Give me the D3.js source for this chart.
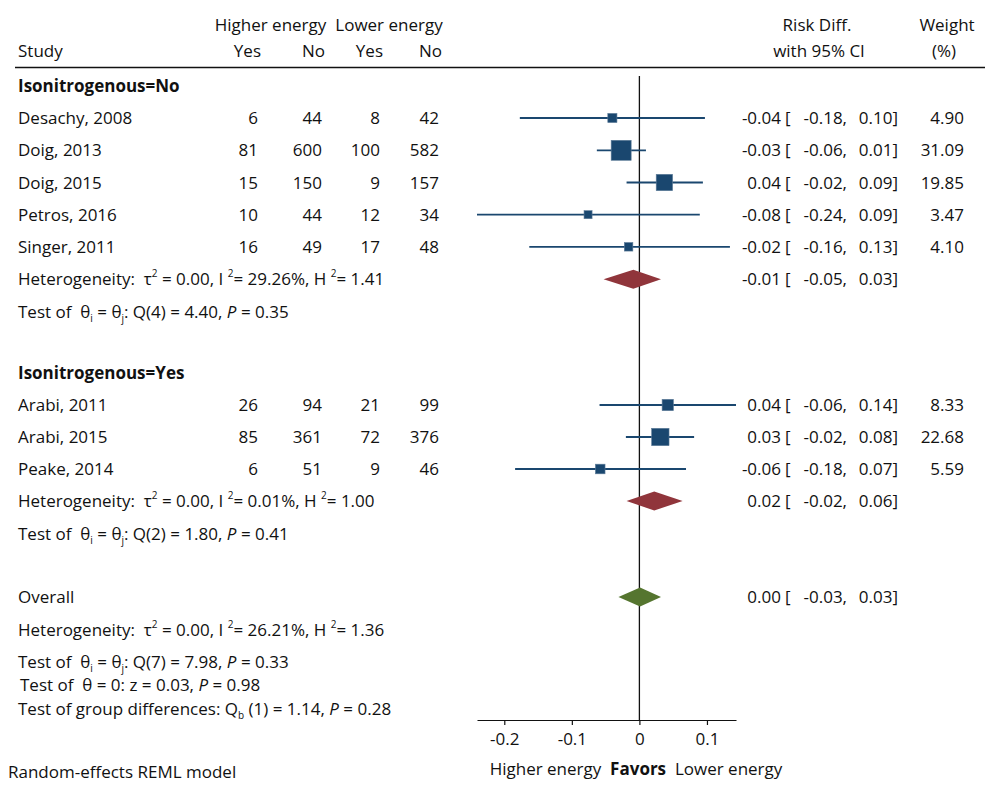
<!DOCTYPE html>
<html><head><meta charset="utf-8">
<script src="https://cdn.jsdelivr.net/npm/d3@7/dist/d3.min.js"></script>
<style>
html,body{margin:0;padding:0;background:#fff;}
svg text{font-family:"Open Sans","Noto Sans",sans-serif;font-size:17px;fill:#111;}
</style></head>
<body>
<svg id="chart" width="1000" height="788"></svg>
<script>
// ---- data ----
const studies = ["Desachy, 2008","Doig, 2013","Doig, 2015","Petros, 2016","Singer, 2011","Arabi, 2011","Arabi, 2015","Peake, 2014"];
const groupOf = ["No","No","No","No","No","Yes","Yes","Yes"];
const hiYes = [6,81,15,10,16,26,85,6];
const hiNo  = [44,600,150,44,49,94,361,51];
const loYes = [8,100,9,12,17,21,72,9];
const loNo  = [42,582,157,34,48,99,376,46];
const rd    = [-0.040,-0.027,0.037,-0.076,-0.016,0.042,0.031,-0.058];
const ciLo  = [-0.177,-0.063,-0.019,-0.2404,-0.163,-0.059,-0.020,-0.184];
const ciHi  = [0.097,0.0097,0.094,0.0894,0.134,0.143,0.081,0.069];
const weight = [4.90,31.09,19.85,3.47,4.10,8.33,22.68,5.59];

const groups = ["Isonitrogenous=No","Isonitrogenous=Yes"];
const pooledRd = [-0.009,0.022,0.001];
const pooledLo = [-0.053,-0.019,-0.031];
const pooledHi = [0.032,0.064,0.032];

const tau2 = [0.00,0.00,0.00];
const i2   = [29.26,0.01,26.21];
const h2   = [1.41,1.00,1.36];
const qDf  = [4,2,7];
const qVal = [4.40,1.80,7.98];
const qP   = [0.35,0.41,0.33];
const zVal = 0.03, zP = 0.98;
const qbDf = 1, qbVal = 1.14, qbP = 0.28;

const axisTicks = [-0.2,-0.1,0,0.1];

// ---- layout ----
const svg = d3.select("#chart");
const loc = d3.formatLocale({decimal:".",thousands:",",grouping:[3],currency:["",""],minus:"-"});
const f2 = loc.format(".2f");
const fTick = v => v === 0 ? "0" : loc.format(".1f")(v);

const xMin = d3.min(ciLo), xMax = d3.max(ciHi);
const x = d3.scaleLinear().domain([xMin, xMax]).range([477, 736]);
const size = d3.scaleSqrt().domain([0, d3.max(weight)]).range([2, 20]);
const navy = "#1a476f", cran = "#90353b", green = "#55752f";

// row centres
const studyY = [118,150.3,182.5,214.7,246.8,405,437,469];
const headY = [86,373];
const pooledY = [279.2,501,597];
const testY = [311.5,533.5,662];
const hetY3 = 629.5;

const colRight = [258,322,380,439];
const dy = "0.36em";

// header
const hdr = svg.append("g");
hdr.append("text").attr("x",270.5).attr("y",31).attr("text-anchor","middle").text("Higher energy");
hdr.append("text").attr("x",389).attr("y",31).attr("text-anchor","middle").text("Lower energy");
hdr.append("text").attr("x",18).attr("y",57).text("Study");
["Yes","No","Yes","No"].forEach((t,i)=>{
  hdr.append("text").attr("x",colRight[i]+3).attr("y",57).attr("text-anchor","end").text(t);
});
hdr.append("text").attr("x",817).attr("y",31).attr("text-anchor","middle").text("Risk Diff.");
hdr.append("text").attr("x",819).attr("y",57).attr("text-anchor","middle").text("with 95% CI");
hdr.append("text").attr("x",947).attr("y",31).attr("text-anchor","middle").text("Weight");
hdr.append("text").attr("x",944).attr("y",57).attr("text-anchor","middle").text("(%)");
svg.append("line").attr("x1",15).attr("x2",985).attr("y1",67.5).attr("y2",67.5)
  .attr("stroke","#111").attr("stroke-width",1.6);

// group headers
groups.forEach((g,i)=>{
  svg.append("text").attr("x",18).attr("y",headY[i]).attr("dy",dy)
    .attr("font-weight","bold").text(g);
});

// zero line
svg.append("line").attr("x1",x(0)).attr("x2",x(0)).attr("y1",76).attr("y2",720)
  .attr("stroke","#111").attr("stroke-width",1.3);

// right-hand estimate text
function estText(y, est, lo, hi, w){
  const g = svg.append("g");
  g.append("text").attr("x",781).attr("y",y).attr("dy",dy).attr("text-anchor","end").text(f2(est));
  g.append("text").attr("x",785).attr("y",y).attr("dy",dy).text("[");
  g.append("text").attr("x",847).attr("y",y).attr("dy",dy).attr("text-anchor","end").text(f2(lo)+",");
  g.append("text").attr("x",898).attr("y",y).attr("dy",dy).attr("text-anchor","end").text(f2(hi)+"]");
  if (w != null) g.append("text").attr("x",964).attr("y",y).attr("dy",dy).attr("text-anchor","end").text(f2(w));
}

// studies
studies.forEach((s,i)=>{
  const y = studyY[i];
  svg.append("text").attr("x",18).attr("y",y).attr("dy",dy).text(s);
  [hiYes[i],hiNo[i],loYes[i],loNo[i]].forEach((v,j)=>{
    svg.append("text").attr("x",colRight[j]).attr("y",y).attr("dy",dy).attr("text-anchor","end").text(v);
  });
  svg.append("line").attr("x1",x(ciLo[i])).attr("x2",x(ciHi[i])).attr("y1",y).attr("y2",y)
    .attr("stroke",navy).attr("stroke-width",1.8);
  const sz = size(weight[i]);
  svg.append("rect").attr("x",x(rd[i])-sz/2).attr("y",y-sz/2).attr("width",sz).attr("height",sz)
    .attr("fill",navy).attr("stroke","#5f7d99").attr("stroke-width",0.6);
  estText(y, rd[i], ciLo[i], ciHi[i], weight[i]);
});

// diamonds
const dColors = [cran, cran, green];
pooledRd.forEach((e,i)=>{
  const y = pooledY[i], h = 9.5;
  const pts = [[x(pooledLo[i]),y],[x(e),y-h],[x(pooledHi[i]),y],[x(e),y+h]];
  svg.append("path").attr("d","M"+pts.map(p=>p.join(",")).join("L")+"Z").attr("fill",dColors[i]);
  estText(y, e, pooledLo[i], pooledHi[i], null);
});
svg.append("text").attr("x",18).attr("y",pooledY[2]).attr("dy",dy).text("Overall");

// stat lines
function richText(xp, y, segs){
  const t = svg.append("text").attr("x",xp).attr("y",y).attr("dy",dy).attr("xml:space","preserve");
  segs.forEach(s=>{
    const ts = t.append("tspan").text(s.t);
    if (s.sup) ts.attr("font-size","10px").attr("baseline-shift","8");
    if (s.sub) ts.attr("font-size","10px").attr("baseline-shift","-4");
    if (s.it) ts.attr("font-style","italic");
  });
}
function hetLine(y,k){
  richText(18,y,[{t:"Heterogeneity:  \u03c4"},{t:"2",sup:true},{t:" = "+f2(tau2[k])+", I "},{t:"2",sup:true},
    {t:"= "+f2(i2[k])+"%, H "},{t:"2",sup:true},{t:"= "+f2(h2[k])}]);
}
function testLine(y,k){
  richText(18,y,[{t:"Test of  \u03b8"},{t:"i",sub:true},{t:" = \u03b8"},{t:"j",sub:true},
    {t:": Q("+qDf[k]+") = "+f2(qVal[k])+", "},{t:"P",it:true},{t:" = "+f2(qP[k])}]);
}
hetLine(pooledY[0],0); hetLine(pooledY[1],1); hetLine(hetY3,2);
testLine(testY[0],0); testLine(testY[1],1); testLine(testY[2],2);
richText(20,685,[{t:"Test of  \u03b8 = 0: z = "+f2(zVal)+", "},{t:"P",it:true},{t:" = "+f2(zP)}]);
richText(18,709,[{t:"Test of group differences: Q"},{t:"b",sub:true},{t:" ("+qbDf+") = "+f2(qbVal)+", "},{t:"P",it:true},{t:" = "+f2(qbP)}]);

// axis
const ax = svg.append("g").attr("transform","translate(0,720)")
  .call(d3.axisBottom(x).tickValues(axisTicks).tickFormat(fTick).tickSize(5).tickSizeOuter(0).tickPadding(8));
ax.select(".domain").attr("stroke","#111").attr("stroke-width",1.2);
ax.selectAll(".tick line").attr("stroke","#111").attr("stroke-width",1.2);
ax.selectAll(".tick text").attr("font-family",null).attr("font-size",null).style("font-size","17px").attr("fill","#111");

// favors label
const fav = svg.append("text").attr("x",636).attr("y",769).attr("dy",dy).attr("text-anchor","middle").attr("xml:space","preserve");
fav.append("tspan").text("Higher energy  ");
fav.append("tspan").attr("font-weight","bold").text("Favors");
fav.append("tspan").text("  Lower energy");

svg.append("text").attr("x",8).attr("y",772).attr("dy",dy).text("Random-effects REML model");
</script>
</body></html>
